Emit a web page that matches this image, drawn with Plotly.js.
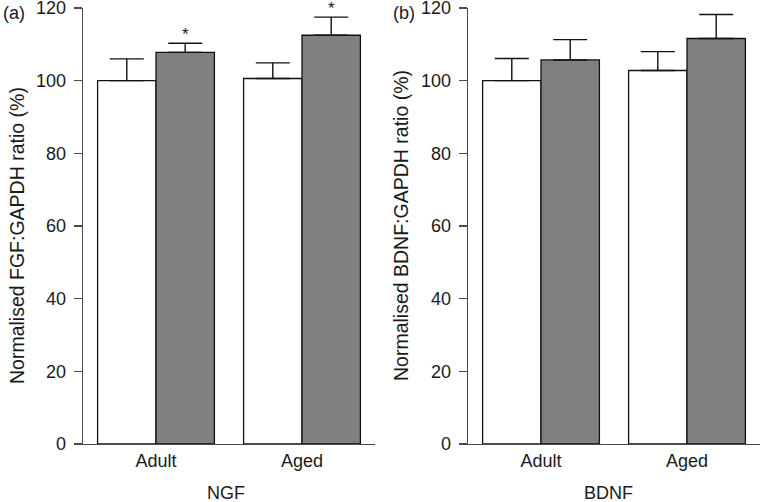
<!DOCTYPE html>
<html>
<head>
<meta charset="utf-8">
<script src="https://cdn.plot.ly/plotly-3.0.1.min.js"></script>
<style>html,body{margin:0;padding:0;background:#fff;}#chart{width:762px;height:502px;}</style>
</head>
<body>
<div id="chart"></div>
<script>
// Categories
const groups = ['Adult', 'Aged'];
// Panel (a) NGF / FGF:GAPDH ratio
const ngfControl = [100, 100.6];
const ngfControlErr = [6.0, 4.3];
const ngfTreated = [107.8, 112.5];
const ngfTreatedErr = [2.5, 5.0];
// Panel (b) BDNF:GAPDH ratio
const bdnfControl = [100, 102.8];
const bdnfControlErr = [6.1, 5.2];
const bdnfTreated = [105.7, 111.6];
const bdnfTreatedErr = [5.6, 6.6];
const noErr = [0, 0];
// significance markers (panel a, treated bars)
const sigLabels = ['*', '*'];
const yTicks = [0, 20, 40, 60, 80, 100, 120];

const W = 762, H = 502;
const FONT = 'Arial, "Liberation Sans", Helvetica, sans-serif';
const TXT = '#1a1a1a';
const AX = '#4a4a4a';

function bar(x, y, err, fill, xa, ya) {
  return {
    type: 'bar', x: x, y: y, xaxis: xa, yaxis: ya,
    marker: {color: fill, line: {color: '#111', width: 1.3}},
    error_y: {type: 'data', symmetric: false, array: err, arrayminus: noErr,
              color: '#111', thickness: 1.4, width: 17},
    showlegend: false, hoverinfo: 'skip'
  };
}

const data = [
  bar(groups, ngfControl, ngfControlErr, '#ffffff', 'x', 'y'),
  bar(groups, ngfTreated, ngfTreatedErr, '#808080', 'x', 'y'),
  bar(groups, bdnfControl, bdnfControlErr, '#ffffff', 'x2', 'y2'),
  bar(groups, bdnfTreated, bdnfTreatedErr, '#808080', 'x2', 'y2')
];

const yTop = 1 - 8 / H, yBot = 1 - 444 / H;

function yax(anchor) {
  return {
    domain: [yBot, yTop], anchor: anchor, range: [0, 120],
    tickvals: yTicks, ticktext: yTicks.map(String),
    ticks: 'outside', ticklen: 8, tickwidth: 1.4, tickcolor: AX,
    showline: true, linecolor: AX, linewidth: 1.4,
    showgrid: false, zeroline: false,
    tickfont: {family: FONT, size: 18, color: TXT},
    ticklabelstandoff: 4, ticklabeloverflow: 'allow', fixedrange: true
  };
}
function xax(anchor, d0, d1) {
  return {
    domain: [d0 / W, d1 / W], anchor: anchor, type: 'category',
    range: [-0.5, 1.5], ticks: '', showline: true, linecolor: AX, linewidth: 1.4,
    showgrid: false, zeroline: false,
    tickfont: {family: FONT, size: 18, color: TXT},
    ticklabelstandoff: 0, ticklabeloverflow: 'allow', fixedrange: true
  };
}

const annotations = [
  {text: '(a)', xref: 'paper', yref: 'paper', x: 1 / W, y: 1 - 1 / H, xanchor: 'left', yanchor: 'top',
   showarrow: false, font: {family: FONT, size: 18, color: TXT}},
  {text: '(b)', xref: 'paper', yref: 'paper', x: 391 / W, y: 1 - 1 / H, xanchor: 'left', yanchor: 'top',
   showarrow: false, font: {family: FONT, size: 18, color: TXT}},
  {text: 'Normalised FGF:GAPDH ratio (%)', xref: 'paper', yref: 'paper', x: 17 / W, y: 1 - 236 / H,
   xanchor: 'center', yanchor: 'middle', textangle: -90, showarrow: false,
   font: {family: FONT, size: 19.5, color: TXT}},
  {text: 'Normalised BDNF:GAPDH ratio (%)', xref: 'paper', yref: 'paper', x: 401 / W, y: 1 - 226 / H,
   xanchor: 'center', yanchor: 'middle', textangle: -90, showarrow: false,
   font: {family: FONT, size: 19.5, color: TXT}},
  {text: 'NGF', xref: 'paper', yref: 'paper', x: 226 / W, y: 1 - 493 / H,
   xanchor: 'center', yanchor: 'middle', showarrow: false, font: {family: FONT, size: 18, color: TXT}},
  {text: 'BDNF', xref: 'paper', yref: 'paper', x: 608 / W, y: 1 - 493 / H,
   xanchor: 'center', yanchor: 'middle', showarrow: false, font: {family: FONT, size: 18, color: TXT}}
];
groups.forEach(function (g, i) {
  annotations.push({
    text: sigLabels[i], xref: 'x', yref: 'y', x: i + 0.2, y: ngfTreated[i] + ngfTreatedErr[i],
    xanchor: 'center', yanchor: 'bottom', yshift: -3, showarrow: false,
    font: {family: FONT, size: 17, color: TXT}
  });
});

const layout = {
  width: W, height: H,
  margin: {l: 0, r: 0, t: 0, b: 0, pad: 0},
  paper_bgcolor: '#fff', plot_bgcolor: 'rgba(0,0,0,0)',
  barmode: 'group', bargap: 0.2, bargroupgap: 0,
  showlegend: false,
  xaxis: xax('y', 83, 375),
  yaxis: yax('x'),
  xaxis2: xax('y2', 468, 760),
  yaxis2: yax('x2'),
  annotations: annotations
};

Plotly.newPlot('chart', data, layout, {displayModeBar: false, staticPlot: true});
</script>
</body>
</html>
